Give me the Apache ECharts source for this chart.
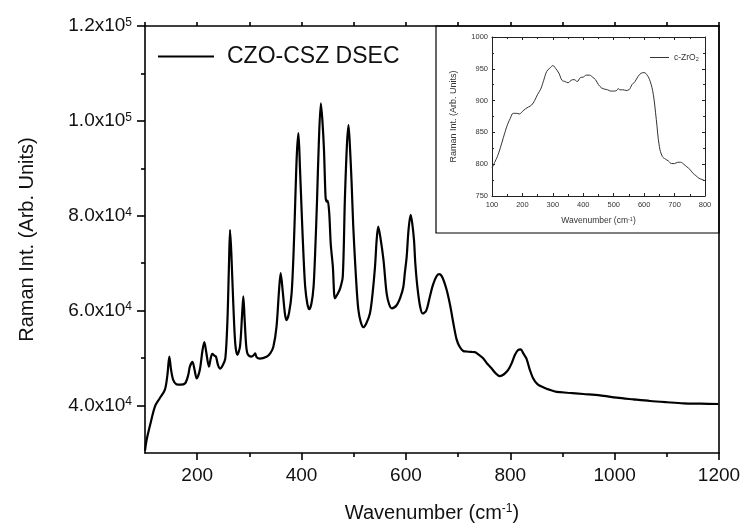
<!DOCTYPE html>
<html>
<head>
<meta charset="utf-8">
<script src="https://cdn.jsdelivr.net/npm/echarts@6/dist/echarts.min.js"></script>
<style>html,body{margin:0;padding:0;background:#fff}#c{width:741px;height:527px}</style>
</head>
<body>
<div id="c"></div>
<script>
// ---- Main spectrum (CZO-CSZ DSEC) ----
var mainWavenumber = [100,103,110,119,128,138,143,146.6,150,154,160,168,177,183,186,191,195,199,205,210,213.7,217,222.6,226,229,233,236,240,243.7,249,254,258,261,263,265.5,269,273,277,282,286,288.4,291,294,297,304,309,311,314,320,333,340,346,352,357,360,364,368,371,376,381,385,388,391,394,397,400.6,404,407,411,414.7,419,423,426,429.7,433,437,440,443,446,448,450,453,456,460,464,469,474,479,483,487,490,493,496,499,502.4,506,509,513,518.4,524,531,536,540.8,544,547,551,557,563,568,573,582.5,590,595,598,601.5,605,609,612,615.5,618,622,627,632,639,646,652,659,664,670,678,685,691,697,703,710,716,725,732,740,748,756,764,772,780,788,796,803,809,815,820,825,831,837,844,852,864,876,889,910,940,972,1004,1036,1068,1100,1132,1165,1199];
var mainIntensity = [30500,32700,36000,39800,41500,43300,46500,50300,47500,45400,44500,44400,44700,46500,48200,49200,47500,45700,47500,51500,53400,51500,48200,50000,50900,50500,50300,48500,47800,48500,50000,58000,70000,77000,72000,62000,53000,50700,52400,59000,63000,58000,52500,50800,50300,50700,51000,50200,49900,50300,51000,52400,56600,64500,67900,64000,59500,58000,59500,63700,73000,83300,93000,97400,90000,79800,71000,65000,61500,60300,61500,65000,72000,83300,95000,103700,100000,93900,84000,83000,83200,80700,74000,69300,62600,63500,64700,67200,83300,95000,99100,94000,86800,78000,70700,64000,60100,57800,56500,57300,59400,63500,69300,75000,77700,75500,70700,63700,61300,60500,61200,63000,65000,68000,71400,77000,80200,78500,74900,70000,65000,61000,59400,60000,63000,65500,67300,67700,67000,64400,61000,57300,54000,52400,51500,51400,51300,51250,50700,49950,48800,47850,46800,46200,46600,47500,49000,50700,51700,51850,51000,49900,47700,45700,44500,43800,43300,42900,42700,42440,42160,41660,41300,40960,40700,40470,40400,40330];

// ---- Inset spectrum (c-ZrO2) ----
var insetWavenumber = [100,110,120,130,140,150,160,170,180,190,200,210,220,230,240,250,260,270,280,290,300,310,320,330,340,350,360,370,380,390,400,410,420,430,440,450,460,470,480,490,500,510,515,520,530,540,550,560,570,580,590,600,610,620,630,640,650,660,670,680,690,700,710,720,730,740,750,760,770,780,790,800];
var insetIntensity = [794,804,815,830,846,861,872,880,880,879,883,887,890,893,900,910,918,932,946,951,955,950,943,932,930,928,932,933,930,936,937,940,940,937,933,925,920,918,917,915,915,916,919,917,917,916,917,925,930,938,943,944,940,930,910,870,828,812,808,805,801,801,803,803,800,796,792,786,782,778,776,774];

// ---- Axis ticks / labels ----
var mainXLabels = [200,400,600,800,1000,1200];
var mainXMinor = [300,500,700,900,1100];
var mainYLabels = [40000,60000,80000,100000,120000];
var mainYMinor = [50000,70000,90000,110000];

var mainName = 'CZO-CSZ DSEC';
var insetName = 'c-ZrO2';

function zip(a,b){var o=[];for(var i=0;i<a.length;i++)o.push([a[i],b[i]]);return o;}
function sci(v){
  var e=Math.floor(Math.log10(v)+1e-9);
  var m=v/Math.pow(10,e);
  return m.toFixed(1)+'x10{sup|'+e+'}';
}
function plain(v){return String(v);}
var FONT='Liberation Sans, Arial, sans-serif';
var supRich={sup:{fontSize:12,verticalAlign:'top',fontFamily:FONT,color:'#111'}};
var supRichSmall={sup:{fontSize:5.5,verticalAlign:'top',fontFamily:FONT,color:'#333'},sub:{fontSize:5.5,verticalAlign:'bottom',fontFamily:FONT,color:'#333'}};
var black='#000';

var chart=echarts.init(document.getElementById('c'),null,{renderer:'canvas'});
chart.setOption({
  animation:false,
  backgroundColor:'#fff',
  textStyle:{fontFamily:FONT},
  graphic:[{type:'rect',shape:{x:436,y:26,width:283,height:207},style:{fill:'none',stroke:'#000',lineWidth:1.2},z:1}],
  legend:[
    {data:[mainName],left:153,top:40,itemWidth:56,itemHeight:14,icon:'path://M0,6L56,6L56,8L0,8Z',itemStyle:{color:'#000'},
     textStyle:{fontSize:23,color:'#111',fontFamily:FONT,padding:[0,0,0,8]}},
    {data:[insetName],left:645,top:48,itemWidth:19,itemHeight:8,icon:'path://M0,4L19,4L19,5L0,5Z',itemStyle:{color:'#333'},
     formatter:function(){return 'c-ZrO{sub|2}';},
     textStyle:{fontSize:8.5,color:'#333',fontFamily:FONT,rich:supRichSmall}}
  ],
  grid:[
    {left:145,right:22,top:26,bottom:74,outerBoundsMode:'none',containLabel:false},
    {left:492,right:36,top:37,bottom:331,outerBoundsMode:'none',containLabel:false}
  ],
  xAxis:[
    {gridIndex:0,type:'value',position:'bottom',min:100,max:1200,
     axisLine:{show:true,lineStyle:{color:black,width:1.6}},
     axisTick:{show:true,customValues:mainXLabels,length:7,lineStyle:{color:black,width:1.6}},
     axisLabel:{show:true,customValues:mainXLabels,fontSize:19,color:'#111',margin:13,fontFamily:FONT,formatter:plain},
     splitLine:{show:false},
     name:'Wavenumber (cm{sup|-1})',nameLocation:'middle',nameGap:50,
     nameTextStyle:{fontSize:20,color:'#111',fontFamily:FONT,rich:supRich}},
    {gridIndex:0,type:'value',position:'bottom',min:100,max:1200,
     axisLine:{show:false},
     axisTick:{show:true,customValues:mainXMinor,length:4,lineStyle:{color:black,width:1.6}},
     axisLabel:{show:false},splitLine:{show:false}},
    {gridIndex:0,type:'value',position:'top',min:100,max:1200,interval:100,
     axisLine:{show:true,lineStyle:{color:black,width:1.6}},
     axisTick:{show:true,length:4,lineStyle:{color:black,width:1.6}},
     axisLabel:{show:false},splitLine:{show:false}},
    {gridIndex:1,type:'value',position:'bottom',min:100,max:800,interval:100,
     axisLine:{show:true,lineStyle:{color:'#222',width:1}},
     axisTick:{show:true,inside:true,length:3,lineStyle:{color:'#222',width:1}},
     minorTick:{show:true,splitNumber:2,length:2,lineStyle:{color:'#222'}},
     axisLabel:{show:true,fontSize:7.5,color:'#333',margin:5,fontFamily:FONT,formatter:plain},
     splitLine:{show:false},
     name:'Wavenumber (cm{sup|-1})',nameLocation:'middle',nameGap:20,
     nameTextStyle:{fontSize:8.5,color:'#333',fontFamily:FONT,rich:supRichSmall}},
    {gridIndex:1,type:'value',position:'top',min:100,max:800,interval:100,
     axisLine:{show:true,lineStyle:{color:'#222',width:1}},
     axisTick:{show:true,inside:true,length:3,lineStyle:{color:'#222',width:1}},
     minorTick:{show:true,splitNumber:2,length:2,lineStyle:{color:'#222'}},
     axisLabel:{show:false},splitLine:{show:false}}
  ],
  yAxis:[
    {gridIndex:0,type:'value',position:'left',min:30000,max:120000,
     axisLine:{show:true,lineStyle:{color:black,width:1.6}},
     axisTick:{show:true,customValues:mainYLabels,length:8,lineStyle:{color:black,width:1.6}},
     axisLabel:{show:true,customValues:mainYLabels,fontSize:19,color:'#111',margin:13,fontFamily:FONT,
       formatter:function(v){return sci(v);},rich:supRich},
     splitLine:{show:false},
     name:'Raman Int. (Arb. Units)',nameLocation:'middle',nameGap:108,
     nameTextStyle:{fontSize:20,color:'#111',fontFamily:FONT}},
    {gridIndex:0,type:'value',position:'left',min:30000,max:120000,
     axisLine:{show:false},
     axisTick:{show:true,customValues:mainYMinor,length:4,lineStyle:{color:black,width:1.6}},
     axisLabel:{show:false},splitLine:{show:false}},
    {gridIndex:0,type:'value',position:'right',min:30000,max:120000,
     axisLine:{show:true,lineStyle:{color:black,width:1.6}},
     axisTick:{show:false},axisLabel:{show:false},splitLine:{show:false}},
    {gridIndex:1,type:'value',position:'left',min:750,max:1000,interval:50,
     axisLine:{show:true,lineStyle:{color:'#222',width:1}},
     axisTick:{show:true,inside:true,length:3,lineStyle:{color:'#222',width:1}},
     minorTick:{show:true,splitNumber:2,length:2,lineStyle:{color:'#222'}},
     axisLabel:{show:true,fontSize:7.5,color:'#333',margin:4,fontFamily:FONT,formatter:plain},
     splitLine:{show:false},
     name:'Raman Int. (Arb. Units)',nameLocation:'middle',nameGap:34,
     nameTextStyle:{fontSize:9,color:'#333',fontFamily:FONT}},
    {gridIndex:1,type:'value',position:'right',min:750,max:1000,interval:50,
     axisLine:{show:true,lineStyle:{color:'#222',width:1}},
     axisTick:{show:true,inside:true,length:3,lineStyle:{color:'#222',width:1}},
     minorTick:{show:true,splitNumber:2,length:2,lineStyle:{color:'#222'}},
     axisLabel:{show:false},splitLine:{show:false}}
  ],
  series:[
    {name:mainName,type:'line',xAxisIndex:0,yAxisIndex:0,data:zip(mainWavenumber,mainIntensity),
     symbol:'none',smooth:0.3,lineStyle:{color:'#000',width:2.2},itemStyle:{color:'#000'}},
    {name:insetName,type:'line',xAxisIndex:3,yAxisIndex:3,data:zip(insetWavenumber,insetIntensity),
     symbol:'none',smooth:0.4,lineStyle:{color:'#333',width:1},itemStyle:{color:'#333'}}
  ]
});
</script>
</body>
</html>
